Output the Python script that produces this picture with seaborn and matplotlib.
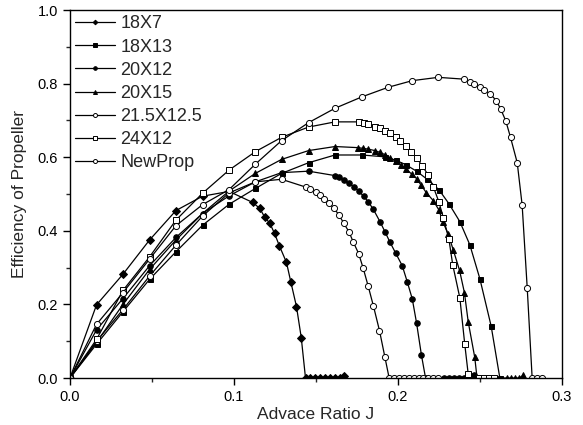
import matplotlib
matplotlib.use("Agg")
import matplotlib.pyplot as plt
import seaborn as sns
import pandas as pd
from matplotlib.ticker import MultipleLocator, FormatStrFormatter

# ---------------- data ----------------
J_18x7 = [0, 0.0162, 0.0323, 0.0485, 0.0646, 0.0808, 0.097, 0.1114, 0.1157, 0.1186, 0.1219, 0.1247,
          0.1276, 0.132, 0.1346, 0.1381, 0.141, 0.1436, 0.1465, 0.1495, 0.1525, 0.1555, 0.1585,
          0.1615, 0.1645, 0.167]
E_18x7 = [0, 0.199, 0.282, 0.375, 0.455, 0.494, 0.507, 0.477, 0.461, 0.438, 0.420, 0.393,
          0.360, 0.314, 0.262, 0.194, 0.110, 0.0, 0, 0, 0, 0, 0, 0, 0, 0.005]

J_18x13 = [0, 0.0162, 0.0323, 0.0485, 0.0646, 0.0808, 0.097, 0.113, 0.129, 0.1455, 0.1616, 0.178,
           0.192, 0.1985, 0.2046, 0.2113, 0.2178, 0.2249, 0.231, 0.2377, 0.2438, 0.2499, 0.2568, 0.2621]
E_18x13 = [0, 0.092, 0.180, 0.268, 0.343, 0.415, 0.472, 0.515, 0.556, 0.585, 0.606, 0.606,
           0.601, 0.592, 0.580, 0.562, 0.540, 0.512, 0.474, 0.425, 0.362, 0.270, 0.141, 0.0]

J_20x12 = [0, 0.0162, 0.0323, 0.0485, 0.0646, 0.0808, 0.097, 0.113, 0.129, 0.1455, 0.1616,
           0.164, 0.167, 0.170, 0.173, 0.176, 0.179, 0.182, 0.185, 0.189, 0.192, 0.195, 0.1985,
           0.2026, 0.2056, 0.2087, 0.2113, 0.2143, 0.2168, 0.228, 0.231, 0.234, 0.237, 0.240,
           0.243, 0.2465]
E_20x12 = [0, 0.131, 0.216, 0.305, 0.382, 0.447, 0.495, 0.533, 0.558, 0.562, 0.550,
           0.545, 0.537, 0.529, 0.520, 0.508, 0.494, 0.478, 0.458, 0.425, 0.398, 0.370, 0.340,
           0.305, 0.262, 0.215, 0.150, 0.062, 0.0, 0, 0, 0, 0, 0, 0, 0.008]

J_20x15 = [0, 0.0162, 0.0323, 0.0485, 0.0646, 0.0808, 0.097, 0.113, 0.129, 0.1455, 0.1616,
           0.1755, 0.1788, 0.1818, 0.1859, 0.189, 0.192, 0.195, 0.1985, 0.202, 0.205, 0.2087,
           0.2113, 0.2141, 0.2172, 0.2215, 0.2249, 0.2273, 0.2306, 0.2337, 0.2375, 0.2405,
           0.2428, 0.2468, 0.2482, 0.2665, 0.269, 0.2715, 0.274, 0.2765]
E_20x15 = [0, 0.097, 0.200, 0.295, 0.375, 0.447, 0.508, 0.556, 0.594, 0.618, 0.629,
           0.626, 0.624, 0.622, 0.618, 0.613, 0.607, 0.598, 0.590, 0.578, 0.567, 0.553,
           0.542, 0.524, 0.504, 0.482, 0.457, 0.425, 0.391, 0.348, 0.293, 0.232,
           0.153, 0.056, 0.0, 0, 0, 0, 0, 0.008]

J_215x125 = [0, 0.0162, 0.0323, 0.0485, 0.0646, 0.0808, 0.097, 0.113, 0.129, 0.1436, 0.1466,
             0.1497, 0.1523, 0.155, 0.158, 0.161, 0.164, 0.167, 0.170, 0.1727, 0.176, 0.1788,
             0.1818, 0.185, 0.1887, 0.192, 0.1946, 0.1975, 0.2005, 0.2035, 0.2065, 0.2095,
             0.2125, 0.2155, 0.2185, 0.2215, 0.2245]
E_215x125 = [0, 0.100, 0.186, 0.277, 0.361, 0.440, 0.503, 0.533, 0.540, 0.519, 0.513,
             0.506, 0.497, 0.486, 0.475, 0.461, 0.443, 0.420, 0.398, 0.370, 0.338, 0.298,
             0.250, 0.196, 0.129, 0.057, 0.0, 0, 0, 0, 0, 0, 0, 0, 0, 0, 0]

J_24x12 = [0, 0.0162, 0.0323, 0.0485, 0.0646, 0.0808, 0.097, 0.113, 0.129, 0.1455, 0.1616,
           0.176, 0.179, 0.182, 0.186, 0.189, 0.192, 0.195, 0.1985, 0.2015, 0.205, 0.208,
           0.2113, 0.2148, 0.2184, 0.2215, 0.2249, 0.2276, 0.231, 0.2334, 0.2377, 0.2407,
           0.2428, 0.2495, 0.2525, 0.2555, 0.2585]
E_24x12 = [0, 0.105, 0.238, 0.329, 0.429, 0.502, 0.565, 0.615, 0.654, 0.682, 0.696,
           0.696, 0.694, 0.690, 0.683, 0.678, 0.672, 0.665, 0.654, 0.644, 0.630, 0.615,
           0.599, 0.576, 0.552, 0.520, 0.479, 0.436, 0.378, 0.307, 0.218, 0.092,
           0.011, 0, 0, 0, 0]

J_newprop = [0, 0.0162, 0.0323, 0.0485, 0.0646, 0.0808, 0.097, 0.113, 0.129, 0.1455, 0.1616,
             0.178, 0.194, 0.2087, 0.2245, 0.2405, 0.2436, 0.2466, 0.2497, 0.2527, 0.2564,
             0.2599, 0.2625, 0.2657, 0.2686, 0.2727, 0.2757, 0.2788, 0.2818, 0.2849, 0.2879]
E_newprop = [0, 0.146, 0.232, 0.323, 0.414, 0.471, 0.512, 0.581, 0.645, 0.694, 0.733,
             0.764, 0.790, 0.808, 0.817, 0.812, 0.805, 0.799, 0.792, 0.783, 0.771,
             0.754, 0.732, 0.699, 0.654, 0.585, 0.470, 0.244, 0.0, 0.0, 0.0]

labels = ["18X7", "18X13", "20X12", "20X15", "21.5X12.5", "24X12", "NewProp"]
x_ticks = [0.0, 0.1, 0.2, 0.3]
y_ticks = [0.0, 0.2, 0.4, 0.6, 0.8, 1.0]

series = [
    (labels[0], J_18x7, E_18x7),
    (labels[1], J_18x13, E_18x13),
    (labels[2], J_20x12, E_20x12),
    (labels[3], J_20x15, E_20x15),
    (labels[4], J_215x125, E_215x125),
    (labels[5], J_24x12, E_24x12),
    (labels[6], J_newprop, E_newprop),
]
df = pd.concat([pd.DataFrame({"J": j, "E": e, "prop": name}) for name, j, e in series],
               ignore_index=True)

# ---------------- style ----------------
styles = {
    "18X7":      dict(marker="D", mfc="black", ms=3.6),
    "18X13":     dict(marker="s", mfc="black", ms=3.6),
    "20X12":     dict(marker="o", mfc="black", ms=4.0),
    "20X15":     dict(marker="^", mfc="black", ms=4.4),
    "21.5X12.5": dict(marker="o", mfc="white", ms=4.4),
    "24X12":     dict(marker="s", mfc="white", ms=4.0),
    "NewProp":   dict(marker="o", mfc="white", ms=4.4),
}

sns.set_style("ticks")
plt.rcParams["font.family"] = ["Liberation Sans", "DejaVu Sans"]

fig = plt.figure(figsize=(5.83, 4.25), dpi=100)
ax = fig.add_axes([70 / 583, 1 - 378 / 425, (562 - 70) / 583, (378 - 10) / 425])

for name in labels:
    st = styles[name]
    sub = df[df["prop"] == name]
    sns.lineplot(data=sub, x="J", y="E", ax=ax, color="black", linewidth=0.9,
                 marker=st["marker"], markersize=st["ms"], markerfacecolor=st["mfc"],
                 markeredgecolor="black", markeredgewidth=0.7, label=name,
                 errorbar=None, sort=False, estimator=None)

ax.set_xlim(0, 0.3)
ax.set_ylim(0, 1.0)
ax.set_xticks(x_ticks)
ax.set_yticks(y_ticks)
ax.xaxis.set_major_formatter(FormatStrFormatter("%.1f"))
ax.yaxis.set_major_formatter(FormatStrFormatter("%.1f"))
ax.xaxis.set_minor_locator(MultipleLocator(0.05))
ax.yaxis.set_minor_locator(MultipleLocator(0.1))
ax.tick_params(which="major", direction="out", length=5, width=1, labelsize=10.5,
               color="black", labelcolor="black", top=False, right=False)
ax.tick_params(which="minor", direction="out", length=3, width=1, top=False, right=False)
for sp in ax.spines.values():
    sp.set_visible(True)
    sp.set_color("black")
    sp.set_linewidth(1.0)

ax.set_xlabel("Advace Ratio J", fontsize=12.5, labelpad=2)
ax.set_ylabel("Efficiency of Propeller", fontsize=12.5, labelpad=8)

leg = ax.legend(loc="upper left", bbox_to_anchor=(0.0, 1.0), frameon=False, fontsize=13,
                handlelength=2.2, handletextpad=0.3, labelspacing=0.34, borderaxespad=0.05,
                borderpad=0.25, markerscale=0.65)

fig.savefig("out.png", dpi=100)
